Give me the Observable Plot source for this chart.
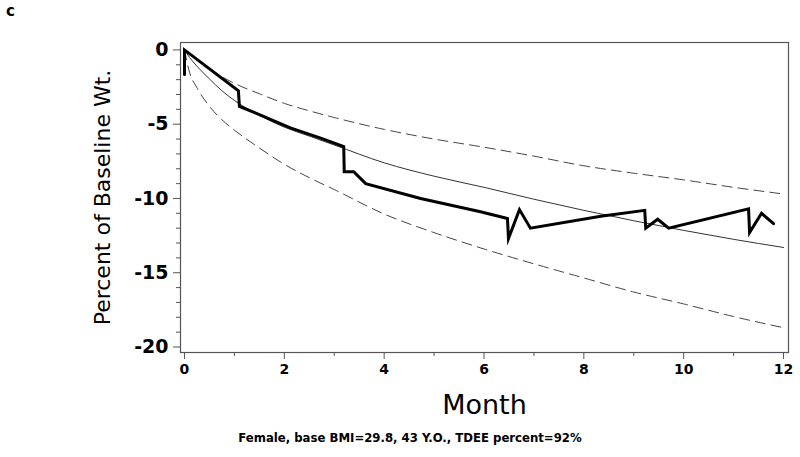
<!DOCTYPE html>
<html><head><meta charset="utf-8">
<script src="https://cdn.jsdelivr.net/npm/d3@7"></script>
<script src="https://cdn.jsdelivr.net/npm/@observablehq/plot@0.6"></script>
<style>
body{margin:0;background:#fff;}
#wrap{position:relative;width:800px;height:457px;font-family:"DejaVu Sans",sans-serif;overflow:hidden;}
#chart{position:absolute;left:0;top:0;}
#panel{position:absolute;left:6px;top:4px;font-weight:bold;font-size:15px;line-height:15px;}
#caption{position:absolute;left:410px;top:431px;transform:translateX(-50%);white-space:nowrap;font-family:"DejaVu Sans Condensed","DejaVu Sans",sans-serif;font-weight:bold;font-size:13px;line-height:13px;}
</style></head><body>
<div id="wrap"><div id="chart"></div><div id="panel">c</div><div id="caption">Female, base BMI=29.8, 43 Y.O., TDEE percent=92%</div></div>
<script>
// Model curves (months grid)
const modelMonths = [0, 0.1, 0.25, 0.5, 0.75, 1, 1.5, 2, 2.5, 3, 4, 5, 6, 7, 8, 9, 10, 11, 12];
const modelMean   = [0, -0.5, -1.1, -1.95, -2.75, -3.4, -4.4, -5.2, -5.8, -6.4, -7.6, -8.5, -9.25, -10.05, -10.8, -11.5, -12.15, -12.75, -13.3];
const modelUpper  = [0, -0.3, -0.7, -1.25, -1.8, -2.25, -2.95, -3.6, -4.1, -4.55, -5.35, -6.0, -6.55, -7.15, -7.8, -8.3, -8.75, -9.25, -9.7];
const modelLower  = [0, -1.5, -2.55, -3.8, -4.7, -5.4, -6.6, -7.7, -8.6, -9.4, -11.05, -12.3, -13.4, -14.4, -15.35, -16.3, -17.1, -17.95, -18.7];

// Observed weights
const obsMonths = [0, 0, 1.08, 1.1, 1.5, 2.12, 2.7, 3.19, 3.2, 3.39, 3.63, 4.73, 5.93, 6.47, 6.49, 6.71, 6.93, 8.34, 9.22, 9.24, 9.48, 9.7, 11.3, 11.32, 11.56, 11.8];
const obsValues = [-1.65, 0, -2.75, -3.8, -4.35, -5.25, -5.9, -6.5, -8.2, -8.2, -9.0, -10.0, -10.9, -11.35, -12.7, -10.75, -12.0, -11.2, -10.8, -12.0, -11.4, -12.0, -10.7, -12.3, -11.0, -11.7];

// Axis ticks
const xMajor = [0, 2, 4, 6, 8, 10, 12];
const xMinor = [1, 3, 5, 7, 9, 11];
const yMajor = [0, -5, -10, -15, -20];
const yMinor = [-1, -2, -3, -4, -6, -7, -8, -9, -11, -12, -13, -14, -16, -17, -18, -19];

const xLabel = "Month";
const yLabel = "Percent of Baseline Wt.";

const mean = modelMonths.map((m, i) => ({m, v: modelMean[i]}));
const upper = modelMonths.map((m, i) => ({m, v: modelUpper[i]}));
const lower = modelMonths.map((m, i) => ({m, v: modelLower[i]}));
const obs = obsMonths.map((m, i) => ({m, v: obsValues[i]}));

const chart = Plot.plot({
  width: 800,
  height: 420,
  marginTop: 42,
  marginLeft: 180,
  marginRight: 12,
  marginBottom: 68,
  style: {fontFamily: "DejaVu Sans, sans-serif", background: "white", color: "black"},
  x: {domain: [-0.08, 12.1], label: null},
  y: {domain: [-20.37, 0.5], label: null},
  marks: [
    Plot.line(upper, {x: "m", y: "v", stroke: "#444", strokeWidth: 1, strokeDasharray: "10,6", curve: "monotone-x"}),
    Plot.line(lower, {x: "m", y: "v", stroke: "#444", strokeWidth: 1, strokeDasharray: "10,6", curve: "monotone-x"}),
    Plot.line(mean, {x: "m", y: "v", stroke: "#333", strokeWidth: 1, curve: "monotone-x"}),
    Plot.line(obs, {x: "m", y: "v", stroke: "black", strokeWidth: 3, strokeLinejoin: "miter", strokeMiterlimit: 10}),
    Plot.frame({stroke: "#555", strokeWidth: 1.2}),
    Plot.axisY(yMajor, {anchor: "left", tickSize: 7, tickPadding: 5, fontSize: 19, fontWeight: "bold", stroke: "#555", label: null, tickFormat: d => String(d)}),
    Plot.axisY(yMinor, {anchor: "left", tickSize: 4, stroke: "#555", label: null, tickFormat: () => ""}),
    Plot.axisX(xMajor, {anchor: "bottom", tickSize: 7, tickPadding: 5, fontSize: 14, fontWeight: "bold", stroke: "#555", label: null, tickFormat: d => String(d)}),
    Plot.axisX(xMinor, {anchor: "bottom", tickSize: 4, stroke: "#555", label: null, tickFormat: () => ""}),
    Plot.text([yLabel], {text: d => d, frameAnchor: "left", textAnchor: "middle", lineAnchor: "middle", dx: -78, rotate: -90, fontSize: 22, fill: "black"}),
    Plot.text([xLabel], {text: d => d, frameAnchor: "bottom", textAnchor: "middle", lineAnchor: "middle", dy: 53, fontSize: 27, fill: "black"})
  ]
});
document.getElementById("chart").appendChild(chart);
</script>
</body></html>
